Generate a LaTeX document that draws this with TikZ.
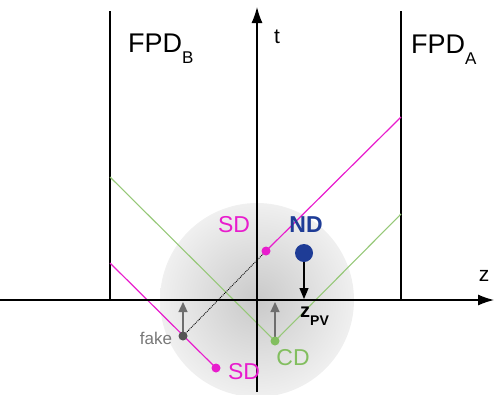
\documentclass[tikz,border=0pt]{standalone}
\usepackage{fontspec}
\setmainfont{Liberation Sans}
\usetikzlibrary{arrows.meta}
\definecolor{sdcol}{RGB}{232,28,205}
\definecolor{cdlinecol}{RGB}{150,200,120}
\definecolor{cdcol}{RGB}{130,190,95}
\definecolor{ndcol}{RGB}{30,60,150}
\definecolor{fakecol}{RGB}{85,85,85}
\definecolor{faketxt}{RGB}{120,120,120}
\definecolor{garrow}{RGB}{110,110,110}
\newcommand\subtxt[1]{\raisebox{-11pt}{\fontsize{17}{17}\selectfont #1}}
\tikzset{
  axis/.style={line width=1.2pt,-{Latex[length=16pt,width=11pt]}},
  fpdline/.style={line width=1.1pt},
  sdline/.style={sdcol,line width=1.2pt},
  cdtrack/.style={cdlinecol,line width=1.1pt},
  dotpt/.style={circle,inner sep=0pt,minimum size=#1},
  garr/.style={garrow,line width=1.2pt,-{Triangle[length=10pt,width=9pt]}},
  lbl/.style={font=\fontsize{23}{23}\selectfont,inner sep=0pt}
}
\begin{document}
\begin{tikzpicture}[x=1pt,y=-1pt]
\useasboundingbox (0,0) rectangle (494,394);
% shaded sphere
\shade[inner color=gray!42,outer color=gray!12] (257,300) circle (97);
% coordinates
\coordinate (zs) at (0,300);
\coordinate (ze) at (494,300);
\coordinate (ts) at (257,392);
\coordinate (te) at (257,7);
\coordinate (bt) at (110,11);
\coordinate (bb) at (110,300);
\coordinate (at) at (401,11);
\coordinate (ab) at (401,300);
\coordinate (sdu) at (266,251);
\coordinate (sdue) at (401,117);
\coordinate (sdl) at (216,368);
\coordinate (sdls) at (110,263);
\coordinate (cd) at (275,341);
\coordinate (cdls) at (110,177);
\coordinate (cdre) at (401,214);
\coordinate (fk) at (183,336);
\coordinate (fkax) at (183,302);
\coordinate (cdax) at (275,302);
\coordinate (nd) at (304,253);
\coordinate (ndax) at (304,299);
% FPD lines
\draw[fpdline] (bt) -- (bb);
\draw[fpdline] (at) -- (ab);
% tracks
\draw[cdtrack] (cdls) -- (cd) -- (cdre);
\draw[sdline] (sdu) -- (sdue);
\draw[sdline] (sdls) -- (sdl);
\draw[densely dotted,line width=0.9pt] (fk) -- (sdu);
% axes
\draw[axis] (zs) -- (ze);
\draw[axis] (ts) -- (te);
% gray arrows
\draw[garr] (fk) -- (fkax);
\draw[garr] (cd) -- (cdax);
% ND arrow
\draw[line width=1.1pt,-{Triangle[length=11pt,width=9pt]}] (nd) -- (ndax);
% dots
\node[dotpt=9pt,fill=sdcol] (sdudot) at (sdu) {};
\node[dotpt=9pt,fill=sdcol] (sdldot) at (sdl) {};
\node[dotpt=9pt,fill=cdcol] (cddot) at (cd) {};
\node[dotpt=9pt,fill=fakecol] (fkdot) at (fk) {};
\node[dotpt=18pt,fill=ndcol] (nddot) at (nd) {};
% labels
\node[anchor=base west,inner sep=0pt,font=\fontsize{27}{27}\selectfont] (fpdb) at (128,52) {FPD\subtxt{B}};
\node[anchor=base west,inner sep=0pt,font=\fontsize{27}{27}\selectfont] (fpda) at (411,53) {FPD\subtxt{A}};
\node[inner sep=0pt,font=\fontsize{21}{21}\selectfont] (tl) at (277,37) {t};
\node[inner sep=0pt,font=\fontsize{21}{21}\selectfont] (zl) at (484,276) {z};
\node[lbl,text=sdcol] (sdul) at (234,225) {SD};
\node[lbl,text=sdcol] (sdll) at (244,372) {SD};
\node[lbl,text=cdcol] (cdl) at (293,358) {CD};
\node[lbl,text=ndcol,font=\fontsize{23}{23}\selectfont\bfseries] (ndl) at (306,225) {ND};
\node[inner sep=0pt,text=faketxt,font=\fontsize{17}{17}\selectfont] (fkl) at (156,338) {fake};
\node[anchor=base west,inner sep=0pt,font=\fontsize{20}{20}\selectfont\bfseries] (zpv) at (300,317) {z\raisebox{-8pt}{\fontsize{14}{14}\selectfont PV}};
\end{tikzpicture}
\end{document}
